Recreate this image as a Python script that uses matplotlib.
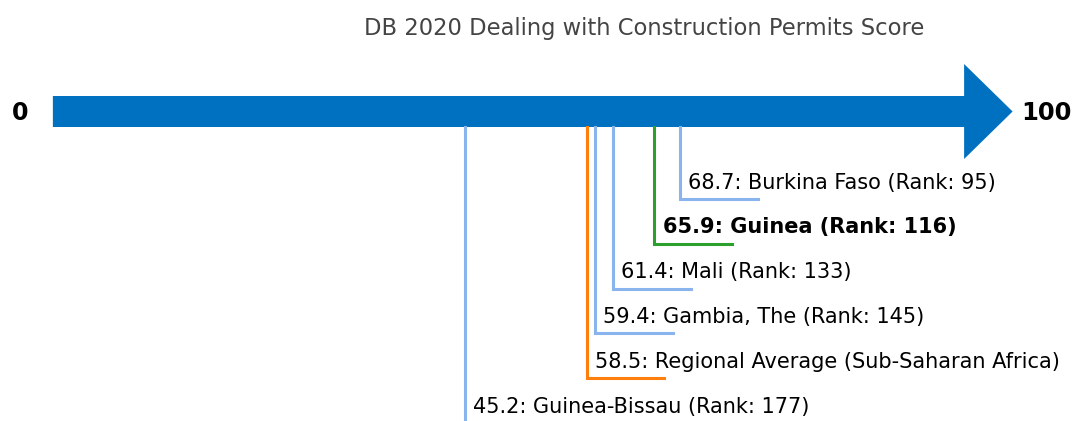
import matplotlib.pyplot as plt
from matplotlib.patches import FancyArrow

# Данні
names = ['Burkina Faso (Rank: 95)', 'Guinea (Rank: 116)', 'Mali (Rank: 133)',
         'Gambia, The (Rank: 145)', 'Regional Average (Sub-Saharan Africa)',
         'Guinea-Bissau (Rank: 177)']
scores = [68.7, 65.9, 61.4, 59.4, 58.5, 45.2]
colors = ['#8ab4ee', '#2ca02c', '#8ab4ee', '#8ab4ee', '#ff7f0e', '#8ab4ee']
bold = [False, True, False, False, False, False]

fig = plt.figure(figsize=(10.72, 4.21), dpi=100)
ax = fig.add_axes([0, 0, 1, 1])
px = 9.149  # пікселів на одиницю
ax.set_xlim(-51.5 / px, (1072 - 51.5) / px)
ax.set_ylim(421, 0)
ax.axis('off')

# Стрілка
ax.add_patch(FancyArrow(0.15, 111.5, 104.9, 0, width=31, head_width=95, head_length=5.3,
                        length_includes_head=True, color='#0070c0', lw=0))
ax.text(-3.45, 113, '0', fontsize=17, fontweight='bold', ha='center', va='center')
ax.text(106, 113, '100', fontsize=17.5, fontweight='bold', ha='left', va='center')
ax.text(593 / px, 28, 'DB 2020 Dealing with Construction Permits Score',
        fontsize=16.3, color='#444444', ha='center', va='center')

# Лінії та підписи
for i, (n, s) in enumerate(zip(names, scores)):
    y = 199 + i * 44.8
    ax.plot([s, s, s + 8.5], [127, y, y], color=colors[i], lw=2.2, solid_joinstyle='miter')
    ax.text(s + 0.9, y - 16.5, f'{s}: {n}', fontsize=15, ha='left', va='center',
            fontweight='bold' if bold[i] else 'normal')

plt.savefig('out.png', dpi=100)
